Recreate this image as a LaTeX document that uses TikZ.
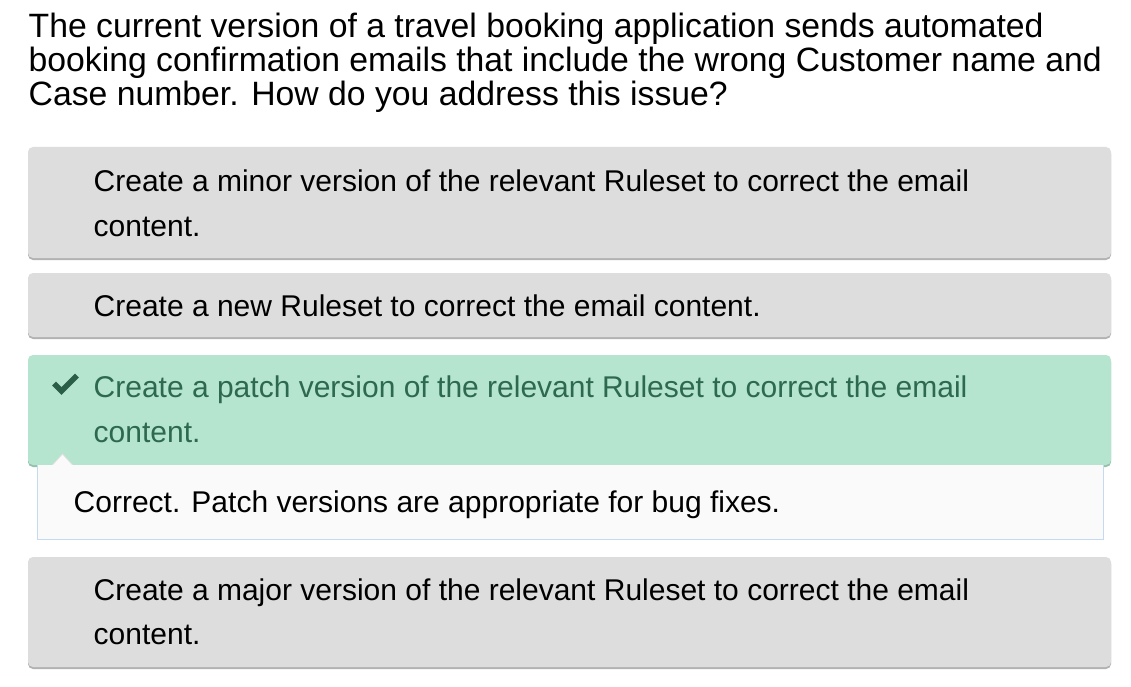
\documentclass[tikz,border=0pt]{standalone}
\usepackage{fontspec}
\setmainfont{Liberation Sans}
\definecolor{boxgray}{RGB}{221,221,221}
\definecolor{shadowgray}{RGB}{178,178,178}
\definecolor{boxgreen}{RGB}{181,228,207}
\definecolor{shadowgreen}{RGB}{150,192,172}
\definecolor{checkgreen}{RGB}{42,94,70}
\definecolor{textgreen}{RGB}{45,105,78}
\definecolor{fbfill}{RGB}{250,250,250}
\definecolor{fbborder}{RGB}{195,218,240}
\begin{document}
\begin{tikzpicture}[x=1pt,y=-1pt,
  qtext/.style={anchor=base west,inner sep=0pt,font=\fontsize{33.75}{34}\selectfont},
  otext/.style={anchor=base west,inner sep=0pt,font=\fontsize{30}{45}\selectfont},
  optbox/.style={fill=boxgray,rounded corners=5pt},
  optshadow/.style={fill=shadowgray,rounded corners=5pt},
]
\useasboundingbox[fill=white] (0,0) rectangle (1131,687);
% question
\node[qtext] (q1) at (28.5,38) {The current version of a travel booking application sends automated};
\node[qtext] (q2) at (28.5,72) {booking confirmation emails that include the wrong Customer name and};
\node[qtext] (q3) at (28.5,106) {Case number. How do you address this issue?};
% option 1
\fill[optshadow] (28,149) rectangle (1111,260);
\fill[optbox] (28,147) rectangle (1111,258);
\node[otext] (o1a) at (93.5,191) {Create a minor version of the relevant Ruleset to correct the email};
\node[otext] (o1b) at (93.5,236) {content.};
% option 2
\fill[optshadow] (28,275) rectangle (1111,339);
\fill[optbox] (28,273) rectangle (1111,337);
\node[otext] (o2a) at (93.5,316) {Create a new Ruleset to correct the email content.};
% option 3 (correct)
\fill[fill=shadowgreen,rounded corners=5pt] (28,357) rectangle (1111,467);
\fill[fill=boxgreen,rounded corners=5pt] (28,355) rectangle (1111,465);
\draw[checkgreen,line width=5.5pt,line join=miter,line cap=butt] (54,383.5) -- (61.5,391) -- (77,375.5);
\node[otext,text=textgreen] (o3a) at (93.5,397) {Create a patch version of the relevant Ruleset to correct the email};
\node[otext,text=textgreen] (o3b) at (93.5,442) {content.};
% feedback
\fill[fbfill] (37,465) rectangle (1104,540);
\draw[fbborder,line width=1pt] (37.5,465) -- (37.5,539.5) -- (1103.5,539.5) -- (1103.5,465);
\fill[fbfill,draw=white!88!black,line width=0.8pt] (52,465.5) -- (62.5,454) -- (73,465.5);
\fill[fbfill] (51,465) rectangle (74,467);
\node[otext] (fb) at (73.5,512) {Correct. Patch versions are appropriate for bug fixes.};
% option 4
\fill[optshadow] (28,559) rectangle (1111,669);
\fill[optbox] (28,557) rectangle (1111,667);
\node[otext] (o4a) at (93.5,600) {Create a major version of the relevant Ruleset to correct the email};
\node[otext] (o4b) at (93.5,644.5) {content.};
\end{tikzpicture}
\end{document}
